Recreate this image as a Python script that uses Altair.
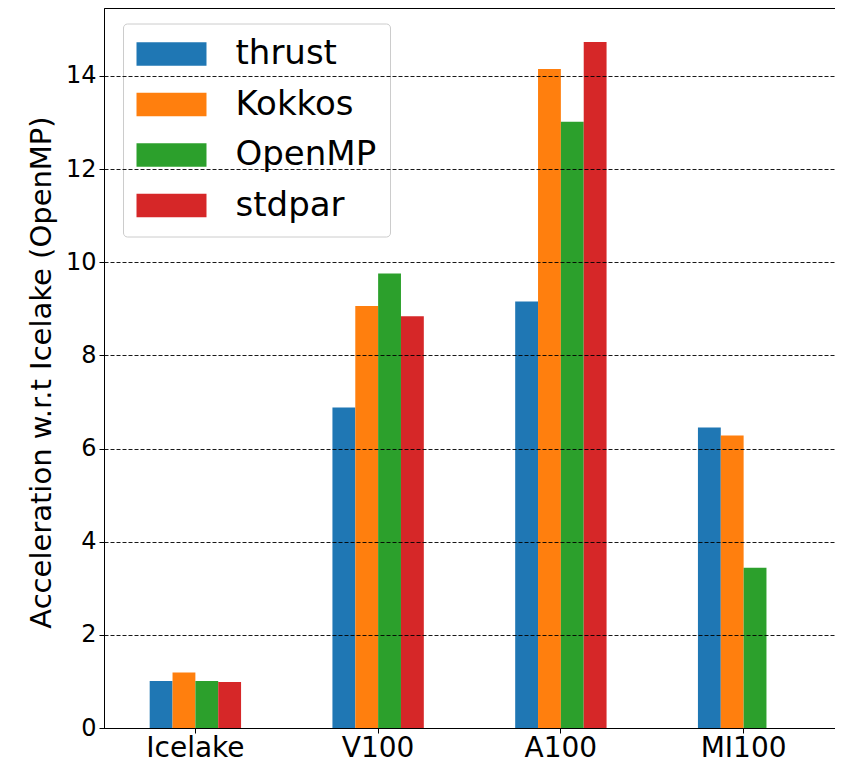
import altair as alt
import pandas as pd

categories = ["Icelake", "V100", "A100", "MI100"]
series = ["thrust", "Kokkos", "OpenMP", "stdpar"]
colors = ["#1f77b4", "#ff7f0e", "#2ca02c", "#d62728"]

thrust = [1.01, 6.88, 9.16, 6.45]
kokkos = [1.19, 9.06, 14.15, 6.28]
openmp = [1.01, 9.76, 13.02, 3.44]
stdpar = [0.99, 8.84, 14.73, None]

y_ticks = [0, 2, 4, 6, 8, 10, 12, 14]

rows = []
for s, vals in zip(series, [thrust, kokkos, openmp, stdpar]):
    for c, v in zip(categories, vals):
        if v is not None:
            rows.append({"platform": c, "impl": s, "value": v})
df = pd.DataFrame(rows)

FONT = "DejaVu Sans"
rect_path = "M-2.333,-0.79L2.333,-0.79L2.333,0.79L-2.333,0.79Z"

chart = alt.Chart(df).mark_bar().encode(
    x=alt.X("platform:N", sort=categories,
            scale=alt.Scale(paddingInner=0.5, paddingOuter=0.25),
            axis=alt.Axis(title=None, labelAngle=0, labelFontSize=28, labelFont=FONT,
                          labelColor="black", tickSize=5, tickColor="black",
                          domainColor="black", labelBaseline="alphabetic",
                          labelPadding=23, grid=False, zindex=1)),
    xOffset=alt.XOffset("impl:N", sort=series, scale=alt.Scale(domain=series, paddingInner=0, paddingOuter=0)),
    y=alt.Y("value:Q", scale=alt.Scale(domain=[0, 15.46], nice=False, zero=True),
            axis=alt.Axis(title="Acceleration w.r.t Icelake (OpenMP)", values=y_ticks,
                          labelFontSize=24, labelFont=FONT, labelColor="black",
                          titleFontSize=29, titleFont=FONT, titleColor="black",
                          titleFontWeight="normal", titleX=-48, titleY=364,
                          tickSize=5, tickColor="black", domainColor="black",
                          labelPadding=3, grid=True, gridColor="black", gridOpacity=0.9,
                          gridDash=[4, 2], gridWidth=1, zindex=1)),
    color=alt.Color("impl:N", sort=series,
                    scale=alt.Scale(domain=series, range=colors),
                    legend=alt.Legend(orient="none", legendX=19, legendY=15.5, title=None,
                                      symbolType=rect_path, symbolSize=900,
                                      symbolOffset=18, labelOffset=47,
                                      labelFontSize=34, labelFont=FONT, labelColor="black",
                                      rowPadding=16.5, padding=13.5,
                                      fillColor="rgba(255,255,255,0.8)",
                                      strokeColor="#cccccc", cornerRadius=4,
                                      symbolStrokeWidth=0, symbolOpacity=1)),
).properties(
    width=731, height=720,
    autosize=alt.AutoSizeParams(type="none"),
    padding={"left": 96, "top": 0, "right": 0, "bottom": 36},
    background="white",
).configure_view(stroke="black", strokeWidth=1)

chart.save("out.html", embed_options={"renderer": "svg", "actions": False})
